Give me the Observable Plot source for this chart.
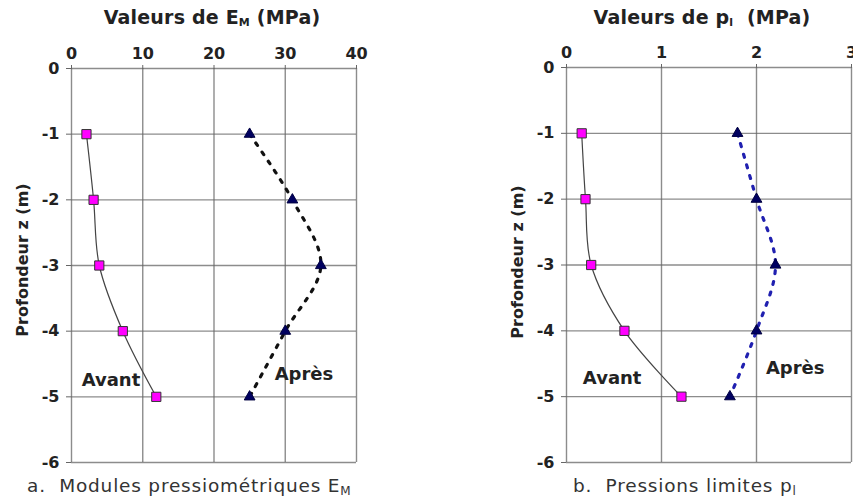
<!DOCTYPE html>
<html>
<head>
<meta charset="utf-8">
<script src="https://cdn.jsdelivr.net/npm/d3@7"></script>
<script src="https://cdn.jsdelivr.net/npm/@observablehq/plot@0.6"></script>
<style>
  html, body { margin: 0; padding: 0; background: #fff; }
  #wrap { position: relative; width: 853px; height: 499px; overflow: hidden; font-family: "DejaVu Sans", sans-serif; color: #222; }
  .panel { position: absolute; top: 0; }
  .title { position: absolute; font-weight: bold; font-size: 19px; white-space: nowrap; transform: translateX(-50%); top: 6px; letter-spacing: 0.2px; }
  .title sub { font-size: 11px; vertical-align: -2px; }
  .cap sub { font-size: 12px; vertical-align: -3px; }
  .cap { position: absolute; font-size: 18.5px; white-space: nowrap; top: 475px; color: #333; letter-spacing: 0.8px; }
  .ylab { position: absolute; font-weight: bold; font-size: 16px; white-space: nowrap; transform: translate(-50%, -50%) rotate(-90deg); }
</style>
</head>
<body>
<div id="wrap">
  <div class="panel" id="left"></div>
  <div class="panel" id="right" style="left:430px"></div>
  <div class="title" style="left:212px">Valeurs de E<sub>M</sub> (MPa)</div>
  <div class="title" style="left:702px">Valeurs de p<sub>l</sub>&nbsp; (MPa)</div>
  <div class="ylab" style="left:22px; top:260px">Profondeur z (m)</div>
  <div class="ylab" style="left:517px; top:262px">Profondeur z (m)</div>
  <div class="cap" style="left:27px">a.&nbsp; Modules pressiométriques E<sub>M</sub></div>
  <div class="cap" style="left:573px">b.&nbsp; Pressions limites p<sub>l</sub></div>
</div>
<script>
const depth = [-1, -2, -3, -4, -5];
const emAvant = [2.1, 3.1, 3.9, 7.2, 11.9];
const emApres = [25, 31, 35, 30, 25];
const plAvant = [0.16, 0.2, 0.26, 0.61, 1.21];
const plApres = [1.8, 2.0, 2.2, 2.0, 1.72];
const emTicks = [0, 10, 20, 30, 40];
const plTicks = [0, 1, 2, 3];
const depthTicks = [0, -1, -2, -3, -4, -5, -6];
const labelAvant = "Avant";
const labelApres = "Après";

function panel(avant, apres, xTicks, apresColor, width, margins, labelOffsets) {
  const dA = depth.map((z, i) => ({z, v: avant[i]}));
  const dP = depth.map((z, i) => ({z, v: apres[i]}));
  const lastA = [dA[dA.length - 1]];
  const lastP = [dP[dP.length - 1]];
  return Plot.plot({
    width, height: 499,
    marginTop: margins.top, marginLeft: margins.left, marginRight: margins.right, marginBottom: margins.bottom,
    style: {fontFamily: "DejaVu Sans", fontSize: "16px", fontWeight: "bold", color: "#222", background: "transparent", overflow: "visible"},
    x: {domain: [xTicks[0], xTicks[xTicks.length - 1]]},
    y: {domain: [-6, 0]},
    marks: [
      Plot.gridX(xTicks, {stroke: "#666", strokeOpacity: 0.75, strokeWidth: 1.4}),
      Plot.gridY(depthTicks, {stroke: "#666", strokeOpacity: 0.75, strokeWidth: 1.4}),
      Plot.axisX(xTicks, {anchor: "top", label: null, tickSize: 4, tickPadding: 6, stroke: "#666", tickFormat: d => String(d)}),
      Plot.axisY(depthTicks, {anchor: "left", label: null, tickSize: 5, tickPadding: 7, stroke: "#666", tickFormat: d => String(d)}),
      Plot.line(dA, {x: "v", y: "z", curve: "catmull-rom", stroke: "#444", strokeWidth: 1.2}),
      Plot.line(dP, {x: "v", y: "z", curve: "catmull-rom", stroke: apresColor, strokeWidth: 3.2, strokeDasharray: "3,8"}),
      Plot.dot(dA, {x: "v", y: "z", symbol: "square", r: 5.2, fill: "#ff00ff", stroke: "#333", strokeWidth: 1}),
      Plot.dot(dP, {x: "v", y: "z", symbol: "triangle", r: 4, fill: "#000060", stroke: "#000040", strokeWidth: 1}),
      Plot.text(lastA, {x: "v", y: "z", text: () => labelAvant, textAnchor: "end", dx: labelOffsets.avant[0], dy: labelOffsets.avant[1], fontSize: 18, fontWeight: "bold", fill: "#222"}),
      Plot.text(lastP, {x: "v", y: "z", text: () => labelApres, textAnchor: "start", dx: labelOffsets.apres[0], dy: labelOffsets.apres[1], fontSize: 18, fontWeight: "bold", fill: "#222"})
    ]
  });
}

document.getElementById("left").appendChild(
  panel(emAvant, emApres, emTicks, "#111", 430, {top: 68, left: 71, right: 74, bottom: 37}, {avant: [-16, -17], apres: [25, -23]})
);
document.getElementById("right").appendChild(
  panel(plAvant, plApres, plTicks, "#2020b0", 423, {top: 67, left: 136, right: 2, bottom: 37}, {avant: [-40, -18], apres: [36, -28]})
);
</script>
</body>
</html>
